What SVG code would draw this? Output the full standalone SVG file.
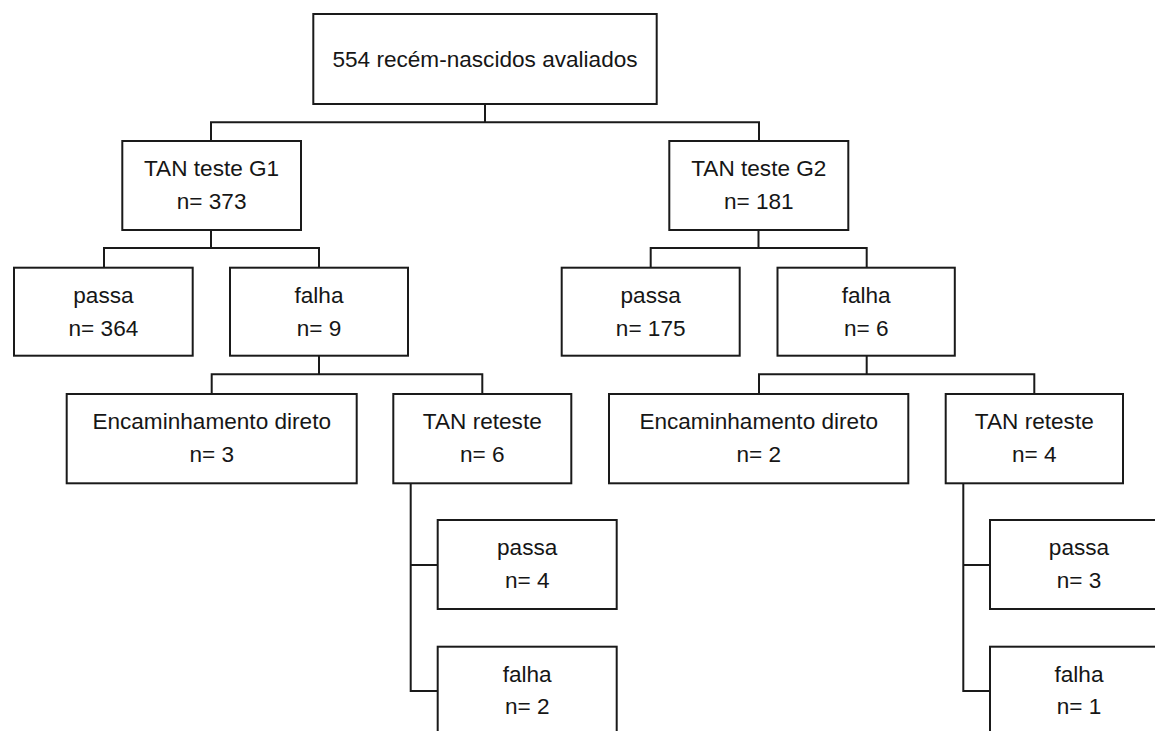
<svg xmlns="http://www.w3.org/2000/svg" width="1155" height="731" viewBox="0 0 1155 731">
<style>
.box{fill:#ffffff;stroke:#1a1a1a;stroke-width:2}
.ln{fill:none;stroke:#1a1a1a;stroke-width:2}
.t{font-family:"Liberation Sans",Arial,Helvetica,sans-serif;font-size:22.6px;fill:#161616;text-anchor:middle}
</style>
<rect width="1155" height="731" fill="#ffffff"/>
<g id="connectors">
<path class="ln" d="M485 104V122.3M211 141V122.3H759V141"/>
<path class="ln" d="M211 230V248M104 267.7V248H319V267.7"/>
<path class="ln" d="M758.5 230V248M650.7 267.7V248H866.7V267.7"/>
<path class="ln" d="M319 355.7V374.3M211.7 394V374.3H482.3V394"/>
<path class="ln" d="M866.7 355.7V374.3M759 394V374.3H1034.3V394"/>
<path class="ln" d="M410.7 483.3V691H437.7M410.7 565H437.7"/>
<path class="ln" d="M963.3 483.3V691H990M963.3 565H990"/>
</g>
<g id="root">
<rect class="box" x="313.3" y="14" width="343.4" height="90"/>
<text class="t" x="485" y="66.7">554 recém-nascidos avaliados</text>
</g>
<g id="g1">
<rect class="box" x="122.3" y="141" width="178.7" height="89"/>
<text class="t" x="211.6" y="175.7">TAN teste G1</text>
<text class="t" x="211.6" y="209">n= 373</text>
</g>
<g id="g2">
<rect class="box" x="669.3" y="141" width="179" height="89"/>
<text class="t" x="758.8" y="175.7">TAN teste G2</text>
<text class="t" x="758.8" y="209">n= 181</text>
</g>
<g id="g1-passa">
<rect class="box" x="14" y="267.7" width="178.7" height="88"/>
<text class="t" x="103.4" y="302.5">passa</text>
<text class="t" x="103.4" y="336">n= 364</text>
</g>
<g id="g1-falha">
<rect class="box" x="230" y="267.7" width="178" height="88"/>
<text class="t" x="319" y="302.5">falha</text>
<text class="t" x="319" y="336">n= 9</text>
</g>
<g id="g2-passa">
<rect class="box" x="561.7" y="267.7" width="178" height="88"/>
<text class="t" x="650.7" y="302.5">passa</text>
<text class="t" x="650.7" y="336">n= 175</text>
</g>
<g id="g2-falha">
<rect class="box" x="777.5" y="267.7" width="177.3" height="88"/>
<text class="t" x="866.2" y="302.5">falha</text>
<text class="t" x="866.2" y="336">n= 6</text>
</g>
<g id="g1-encaminhamento">
<rect class="box" x="66.7" y="394" width="290" height="89.3"/>
<text class="t" x="211.7" y="429">Encaminhamento direto</text>
<text class="t" x="211.7" y="462.3">n= 3</text>
</g>
<g id="g1-reteste">
<rect class="box" x="393.3" y="394" width="178" height="89.3"/>
<text class="t" x="482.3" y="429">TAN reteste</text>
<text class="t" x="482.3" y="462.3">n= 6</text>
</g>
<g id="g2-encaminhamento">
<rect class="box" x="609" y="394" width="299.3" height="89.3"/>
<text class="t" x="758.7" y="429">Encaminhamento direto</text>
<text class="t" x="758.7" y="462.3">n= 2</text>
</g>
<g id="g2-reteste">
<rect class="box" x="945.7" y="394" width="177.3" height="89.3"/>
<text class="t" x="1034.3" y="429">TAN reteste</text>
<text class="t" x="1034.3" y="462.3">n= 4</text>
</g>
<g id="g1-reteste-passa">
<rect class="box" x="437.7" y="520" width="179" height="89"/>
<text class="t" x="527.2" y="555">passa</text>
<text class="t" x="527.2" y="588.3">n= 4</text>
</g>
<g id="g1-reteste-falha">
<rect class="box" x="437.7" y="646.7" width="179" height="95"/>
<text class="t" x="527.2" y="681.7">falha</text>
<text class="t" x="527.2" y="713.5">n= 2</text>
</g>
<g id="g2-reteste-passa">
<rect class="box" x="990" y="520" width="179" height="89"/>
<text class="t" x="1079" y="555">passa</text>
<text class="t" x="1079" y="588.3">n= 3</text>
</g>
<g id="g2-reteste-falha">
<rect class="box" x="990" y="646.7" width="179" height="95"/>
<text class="t" x="1079" y="681.7">falha</text>
<text class="t" x="1079" y="713.5">n= 1</text>
</g>
</svg>
